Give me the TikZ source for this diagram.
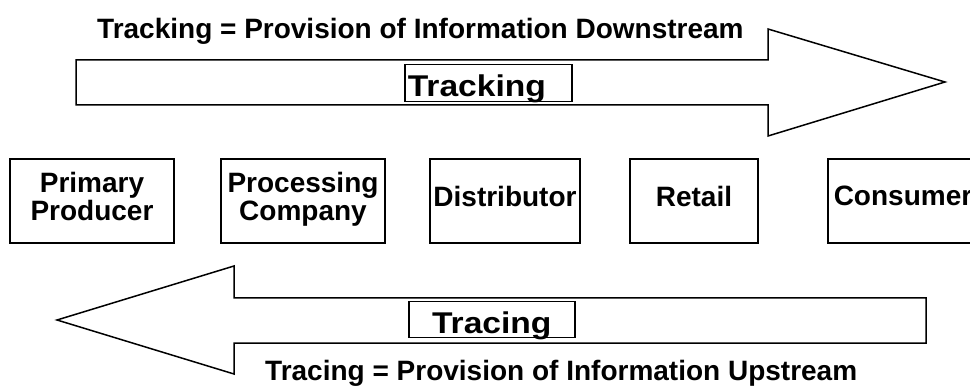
\documentclass[tikz,border=0pt]{standalone}
\usepackage{fontspec}
\setmainfont{Liberation Sans}
\newfontfamily\flowfont[FakeStretch=1.12]{Liberation Sans}
\begin{document}
\begin{tikzpicture}[x=1pt, y=-1pt,
  stage/.style={draw=black, line width=1.5pt, inner sep=0pt, align=center, minimum height=84pt, text depth=10pt, font=\bfseries\fontsize{28}{28}\selectfont},
  heading/.style={anchor=base west, inner sep=0pt, font=\bfseries\fontsize{28}{28}\selectfont},
  flowlabel/.style={draw=black, line width=1.5pt, inner sep=0pt, text height=32pt, anchor=north west, font=\flowfont\bfseries\fontsize{30}{30}\selectfont},
  flowarrow/.style={draw=black, line width=1.5pt, line join=miter}]
\useasboundingbox (0,0) rectangle (970,390);
\node[heading] (downtitle) at (97,39) {Tracking = Provision of Information Downstream};
\draw[flowarrow] (76,60) -- (768,60) -- (768,29) -- (945,82) -- (768,136) -- (768,105) -- (76,105) -- cycle;
\node[flowlabel, text depth=5pt, text width=161pt, inner xsep=3pt, align=left] (tracking) at (404,64) {Tracking};
\node[stage, minimum width=164pt] (primary) at (92,201) {Primary\\Producer};
\node[stage, minimum width=164pt] (processing) at (303,201) {Processing\\Company};
\node[stage, minimum width=150pt] (distributor) at (505,201) {Distributor};
\node[stage, minimum width=128pt] (retail) at (694,201) {Retail};
\node[stage, minimum width=150pt] (consumer) at (903,201) {Consumer};
\draw[flowarrow] (926,298) -- (234,298) -- (234,266) -- (57,320) -- (234,374) -- (234,343) -- (926,343) -- cycle;
\node[flowlabel, text depth=4pt, text width=166pt, align=center] (tracing) at (408,301) {Tracing};
\node[heading] (uptitle) at (265,381) {Tracing = Provision of Information Upstream};
\end{tikzpicture}
\end{document}
